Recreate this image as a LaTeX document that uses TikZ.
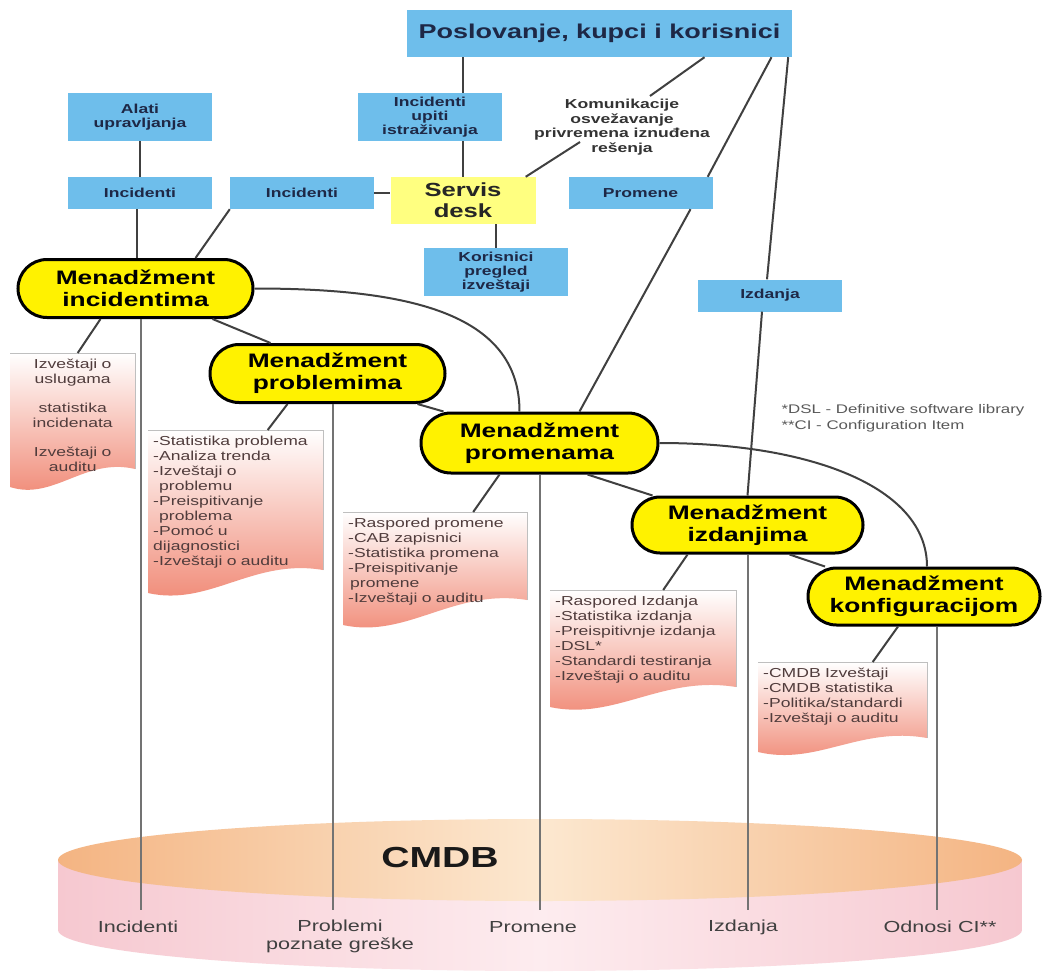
\documentclass[tikz,border=0pt]{standalone}
\usepackage{fontspec}
\setmainfont{Liberation Sans}[FakeStretch=1.35]
\usetikzlibrary{shapes.misc}
\definecolor{boxblue}{RGB}{110,190,235}
\definecolor{boxtext}{RGB}{30,40,70}
\definecolor{mgmtyellow}{RGB}{255,242,0}
\definecolor{deskyellow}{RGB}{255,255,128}
\definecolor{docsalmon}{RGB}{240,135,115}
\definecolor{doctxt}{RGB}{80,60,60}
\definecolor{cyltop}{RGB}{244,180,130}
\definecolor{cyltopmid}{RGB}{252,232,208}
\definecolor{cylbody}{RGB}{246,200,208}
\definecolor{cylbodymid}{RGB}{253,236,239}

% paper sheet with a wavy lower edge: x1, y1, x2, y left, y right
\newcommand{\docpage}[5]{%
  \shade[top color=white, bottom color=docsalmon]
    (#1,#2) -- (#3,#2) -- (#3,#5)
    .. controls ({#1+0.6*(#3-#1)},{#5-12}) and ({#1+0.35*(#3-#1)},{#4+14}) .. (#1,#4) -- cycle;
  \draw[black!25, line width=0.8pt] (#1,#2) -- (#3,#2) -- (#3,#5);}

\begin{document}
\begin{tikzpicture}[x=1pt,y=-1pt,
  box/.style={fill=boxblue, inner sep=0pt, minimum width=144pt, minimum height=32pt,
    align=center, text=boxtext, font=\bfseries\fontsize{13}{14}\selectfont},
  mgmt/.style={rounded rectangle, draw=black, line width=3pt, fill=mgmtyellow,
    inner sep=0pt, minimum width=235pt, minimum height=58pt, align=center,
    font=\bfseries\fontsize{19.5}{22}\selectfont},
  doctext/.style={anchor=north west, align=left, inner xsep=5pt, inner ysep=6pt,
    text=doctxt, font=\fontsize{13}{15}\selectfont},
  link/.style={black!75, line width=2pt},
  feed/.style={black!55, line width=2.8pt},
  base/.style={font=\fontsize{16}{18}\selectfont, text=black!75, align=center}]

  \useasboundingbox (0,0) rectangle (1043,974);
  \fill[white] (0,0) rectangle (1043,974);

  % CMDB cylinder
  \shade[left color=cylbody, right color=cylbody, middle color=cylbodymid]
    (58,860) -- (58,930) .. controls (58,952.6) and (273.8,971) .. (540,971)
    .. controls (806.2,971) and (1022,952.6) .. (1022,930) -- (1022,860) -- cycle;
  \shade[left color=cyltop, right color=cyltop, middle color=cyltopmid]
    (540,860) ellipse [x radius=482pt, y radius=41pt];
  \node[font=\bfseries\fontsize{29}{30}\selectfont, text=black!90] (cmdb) at (440,858) {CMDB};

  % reports
  \docpage{10}{353}{135}{487}{469}
  \docpage{148}{430}{323}{593}{570}
  \docpage{343}{512}{527}{625}{600}
  \docpage{550}{590}{736}{707}{687}
  \docpage{758}{662}{927}{752}{738}

  \node[doctext, align=center, text width=115pt] (d1) at (10,353)
    {Izveštaji o\\uslugama\\[14pt]statistika\\incidenata\\[14pt]Izveštaji o\\auditu};
  \node[doctext, text width=165pt] (d2) at (148,430)
    {-Statistika problema\\-Analiza trenda\\-Izveštaji o\\\hspace*{6pt}problemu\\-Preispitivanje\\\hspace*{6pt}problema\\-Pomoć u\\dijagnostici\\-Izveštaji o auditu};
  \node[doctext, text width=174pt] (d3) at (343,512)
    {-Raspored promene\\-CAB zapisnici\\-Statistika promena\\-Preispitivanje\\\hspace*{2pt}promene\\-Izveštaji o auditu};
  \node[doctext, text width=176pt] (d4) at (550,590)
    {-Raspored Izdanja\\-Statistika izdanja\\-Preispitivnje izdanja\\-DSL*\\-Standardi testiranja\\-Izveštaji o auditu};
  \node[doctext, text width=159pt] (d5) at (758,662)
    {-CMDB Izveštaji\\-CMDB statistika\\-Politika/standardi\\-Izveštaji o auditu};

  % top boxes
  \node[box, minimum width=385pt, minimum height=47pt,
    font=\bfseries\fontsize{20}{22}\selectfont] (pos) at (599.5,33.5) {Poslovanje, kupci i korisnici};
  \node[box, minimum height=48pt] (alati) at (140,117) {Alati\\upravljanja};
  \node[box, minimum height=48pt] (iui) at (430,117) {Incidenti\\upiti\\istraživanja};
  \node[box] (incL) at (140,193) {Incidenti};
  \node[box] (incM) at (302,193) {Incidenti};
  \node[fill=deskyellow, inner sep=0pt, minimum width=145pt, minimum height=47pt, align=center,
    text=black!85, font=\bfseries\fontsize{19}{21}\selectfont] (sd) at (463,200.5) {Servis\\desk};
  \node[box, minimum height=48pt] (kor) at (496,272) {Korisnici\\pregled\\izveštaji};
  \node[box] (prom) at (640.5,193) {Promene};
  \node[box] (izd) at (770,295.5) {Izdanja};
  \node[align=center, inner sep=3pt, text=black!80,
    font=\bfseries\fontsize{13}{14.5}\selectfont] (kom) at (622,127)
    {Komunikacije\\osvežavanje\\privremena iznuđena\\rešenja};

  % processes
  \node[mgmt] (mi) at (135.5,288.5) {Menadžment\\incidentima};
  \node[mgmt] (mp) at (327.5,373.5) {Menadžment\\problemima};
  \node[mgmt, minimum width=237pt, minimum height=60pt] (mpr) at (539.5,443) {Menadžment\\promenama};
  \node[mgmt, minimum width=231pt, minimum height=56pt] (miz) at (747.5,525) {Menadžment\\izdanjima};
  \node[mgmt, minimum width=232pt, minimum height=57pt] (mk) at (924,596.5) {Menadžment\\konfiguracijom};

  \node[anchor=west, align=left, text=black!65, font=\fontsize{12.5}{16}\selectfont] (note) at (778,418)
    {*DSL - Definitive software library\\**CI - Configuration Item};

  % CMDB labels
  \node[base] (lInc) at (138,927) {Incidenti};
  \node[base] (lPro) at (340,936) {Problemi\\poznate greške};
  \node[base] (lPrm) at (533,927) {Promene};
  \node[base] (lIzd) at (743,927) {Izdanja};
  \node[base] (lOdn) at (940,927) {Odnosi CI**};
  \coordinate (cInc) at (141,910);
  \coordinate (cPro) at (333,910);
  \coordinate (cPrm) at (540,910);
  \coordinate (cIzd) at (748,910);
  \coordinate (cOdn) at (937,910);

  % feeds into CMDB
  \draw[feed] (cInc |- mi.south) -- (cInc);
  \draw[feed] (cPro |- mp.south) -- (cPro);
  \draw[feed] (cPrm |- mpr.south) -- (cPrm);
  \draw[feed] (cIzd |- miz.south) -- (cIzd);
  \draw[feed] (cOdn |- mk.south) -- (cOdn);

  % top links
  \draw[link] (sd.north |- pos.south) -- (sd.north |- iui.north);
  \draw[link] (sd.north |- iui.south) -- (sd.north);
  \draw[link] (alati.south) -- (incL.north);
  \draw[link] ([xshift=-3pt]incL.south) -- ([xshift=-3pt]incL.south |- mi.north);
  \draw[link] (incM.south west) -- ([xshift=60pt]mi.north);
  \draw[link] (incM.east) -- (incM.east -| sd.west);
  \draw[link] (kor.north |- sd.south) -- (kor.north);
  \draw[link] ([xshift=105pt]pos.south) -- ([xshift=28pt]kom.north);
  \draw[link] ([xshift=-42pt,yshift=-15pt]kom.center) -- ([xshift=-10pt]sd.north east);
  \draw[link] ([xshift=172pt]pos.south) -- ([xshift=-5pt]prom.north east);
  \draw[link] ([xshift=50pt]prom.south) -- ([xshift=40pt]mpr.north);
  \draw[link] ([xshift=-4pt]pos.south east) -- ([xshift=-3pt]izd.north);
  \draw[link] ([xshift=-8pt]izd.south) -- (miz.north);

  % process links
  \draw[link] ([xshift=77pt]mi.south) -- ([xshift=-57pt]mp.north);
  \draw[link] (mi.east) .. controls +(150,0) and +(0,-100) .. ([xshift=-20pt]mpr.north);
  \draw[link] ([xshift=90pt]mp.south) -- ([xshift=-96pt]mpr.north);
  \draw[link] ([xshift=48pt]mpr.south) -- ([xshift=-95pt]miz.north);
  \draw[link] (mpr.east) .. controls +(150,0) and +(0,-80) .. ([xshift=3pt]mk.north);
  \draw[link] ([xshift=42pt]miz.south) -- ([xshift=-99pt]mk.north);

  % reports to processes
  \draw[link] ([xshift=5pt]d1.north) -- ([xshift=-35pt]mi.south);
  \draw[link] ([xshift=32pt]d2.north) -- ([xshift=-40pt]mp.south);
  \draw[link] ([xshift=38pt]d3.north) -- ([xshift=-40pt]mpr.south);
  \draw[link] ([xshift=20pt]d4.north) -- ([xshift=-60pt]miz.south);
  \draw[link] ([xshift=30pt]d5.north) -- ([xshift=-26pt]mk.south);
\end{tikzpicture}
\end{document}
